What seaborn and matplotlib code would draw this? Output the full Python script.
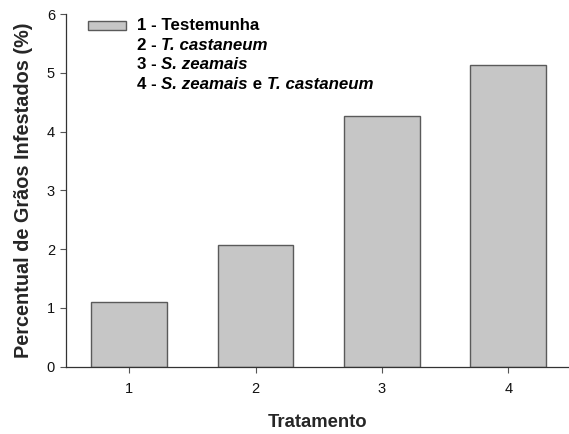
import matplotlib
matplotlib.use("Agg")
import matplotlib.pyplot as plt
import seaborn as sns
import pandas as pd
from matplotlib.patches import Patch

# dados do gráfico
tratamentos = ["1", "2", "3", "4"]
percentual = [1.10, 2.07, 4.27, 5.14]
legenda = [
    [("1 - Testemunha", "normal")],
    [("2 - ", "normal"), ("T. castaneum", "italic")],
    [("3 - ", "normal"), ("S. zeamais", "italic")],
    [("4 - ", "normal"), ("S. zeamais", "italic"), (" e ", "normal"), ("T. castaneum", "italic")],
]

sns.set_style("ticks")
plt.rcParams['font.family'] = ['Liberation Sans', 'DejaVu Sans']

df = pd.DataFrame({"Tratamento": tratamentos, "Percentual": percentual})

fig = plt.figure(figsize=(5.69, 4.34), dpi=100)
ax = fig.add_axes([66 / 569, 1 - 366.7 / 434, 1 - 66 / 569, (366.7 - 14) / 434])

sns.barplot(data=df, x="Tratamento", y="Percentual", color="#c6c6c6",
            saturation=1, width=0.6, edgecolor="#5a5a5a", linewidth=1.0, ax=ax)

ax.set_xlim(-0.5, 3.48)
ax.set_ylim(0, 6)
ax.set_yticks(range(0, 7))
sns.despine(ax=ax)
for s in ["left", "bottom"]:
    ax.spines[s].set_color("#333333")
    ax.spines[s].set_linewidth(0.9)
ax.tick_params(axis="both", labelsize=10.5, length=4, width=0.8, color="#555555",
               labelcolor="#111111", pad=4)
ax.tick_params(axis="x", pad=7)

ax.set_xlabel("Tratamento", fontsize=13.3, fontweight="bold", labelpad=13)
ax.set_ylabel("Percentual de Grãos Infestados (%)", fontsize=14.3, fontweight="bold", labelpad=10)

# legenda: primeira linha com o retângulo
leg = ax.legend(handles=[Patch(facecolor="#c6c6c6", edgecolor="#5a5a5a", linewidth=1.0)],
                labels=[""], loc="upper left", frameon=False,
                bbox_to_anchor=(92 / 569 - 0.012, 1 - 22 / 434 + 0.012),
                bbox_transform=fig.transFigure, handlelength=2.5, handleheight=0.55,
                borderaxespad=0, borderpad=0.2, prop={"size": 11, "weight": "bold"})

# linhas do texto da legenda com partes em itálico
x0 = 137 / 569
linhas_y = [25.7, 45.2, 64.7, 84.2]
for partes, yc in zip(legenda, linhas_y):
    prev = None
    for txt, estilo in partes:
        if prev is None:
            prev = fig.text(x0, 1 - yc / 434, txt, fontsize=12.2, fontweight="bold",
                            style=estilo, va="center", ha="left", color="black")
        else:
            prev = ax.annotate(txt, xy=(1, 0), xycoords=prev, va="bottom", ha="left",
                               fontsize=12.2, fontweight="bold", style=estilo, color="black")

fig.savefig("out.png", dpi=100)
